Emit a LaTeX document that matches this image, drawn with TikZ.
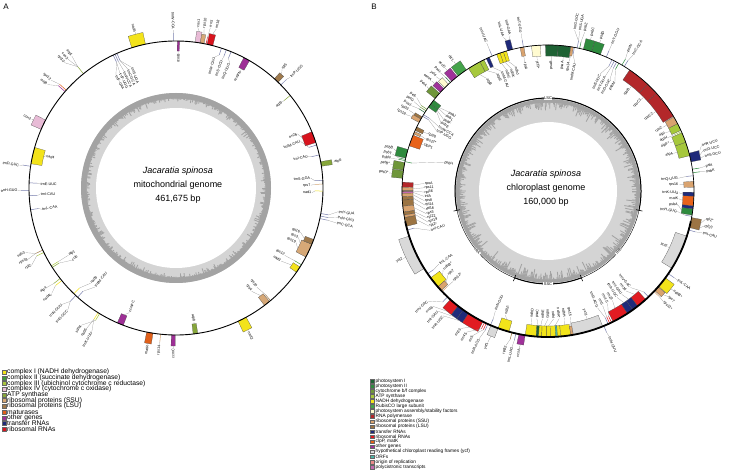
\documentclass[tikz,border=0pt]{standalone}
\usepackage{fontspec}
\setmainfont{Liberation Sans}
% mitochondrial colours
\definecolor{mnad}{HTML}{F3E31B}
\definecolor{msdh}{HTML}{3F9A3C}
\definecolor{mcob}{HTML}{A9C53E}
\definecolor{mcox}{HTML}{E8BBD6}
\definecolor{matp}{HTML}{86A63A}
\definecolor{mssu}{HTML}{D6A877}
\definecolor{mlsu}{HTML}{A07A4C}
\definecolor{mmat}{HTML}{E0601A}
\definecolor{moth}{HTML}{9E2F96}
\definecolor{mtrn}{HTML}{1F2A78}
\definecolor{mrrn}{HTML}{D8141E}
% chloroplast colours
\definecolor{cpsa}{HTML}{1E6234}
\definecolor{cpsb}{HTML}{2E8B3E}
\definecolor{cpet}{HTML}{6F963A}
\definecolor{catp}{HTML}{A6C83C}
\definecolor{cndh}{HTML}{F2E41A}
\definecolor{crbc}{HTML}{44A34A}
\definecolor{cassem}{HTML}{FFFBD0}
\definecolor{crpo}{HTML}{B3272A}
\definecolor{cssu}{HTML}{D9A36F}
\definecolor{clsu}{HTML}{9C7443}
\definecolor{ctrn}{HTML}{1F2A7A}
\definecolor{crrn}{HTML}{E11B22}
\definecolor{cclp}{HTML}{E8621A}
\definecolor{coth}{HTML}{A0319A}
\definecolor{cycf}{HTML}{D9D9D9}
\definecolor{corf}{HTML}{4CB5A6}
\definecolor{cori}{HTML}{E98A8A}
\definecolor{cpoly}{HTML}{C46AB0}
\definecolor{gcdark}{HTML}{A3A3A3}
\definecolor{gclight}{HTML}{D4D4D4}
\tikzset{
  leader/.style={draw=black!45,line width=0.18pt},
  genelab/.style={font=\fontsize{3.7}{4}\selectfont,inner sep=0.4pt},
  qlab/.style={font=\fontsize{4}{4.5}\selectfont,inner sep=0.5pt,fill=white},
  centertxt/.style={font=\fontsize{9}{10}\selectfont},
  legA/.style={font=\fontsize{6.7}{6.8}\selectfont,inner sep=0pt,anchor=west},
  legB/.style={font=\fontsize{4.8}{5}\selectfont,inner sep=0pt,anchor=west},
  panellab/.style={font=\fontsize{8}{9}\selectfont}
}
\newcommand\gbox[5]{\filldraw[fill=#5,draw=black!70,line width=0.2pt] (#1:#3pt) arc[start angle=#1,end angle=#2,radius=#3pt] -- (#2:#4pt) arc[start angle=#2,end angle=#1,radius=#4pt] -- cycle;}
\newcommand\gthin[4]{\draw[#4,line width=0.5pt] (#1:#2pt) -- (#1:#3pt);}
\newcommand\glab[5]{%
  \draw[leader] (#1:#3pt) -- (#2:#4pt);%
  \pgfmathsetmacro\glc{cos(#2+0.01)}%
  \pgfmathsetmacro\glp{(#4-#3)*\glc}%
  \ifdim\glc pt<0pt \pgfmathsetmacro\glr{#2+180}\else\pgfmathsetmacro\glr{#2}\fi
  \ifdim\glp pt>0pt \def\gla{west}\else\def\gla{east}\fi
  \node[genelab,rotate=\glr,anchor=\gla] at (#2:#4pt) {#5};}
\begin{document}
\begin{tikzpicture}[x=1pt,y=1pt]
\useasboundingbox (0,0) rectangle (738,471);
\fill[white] (0,0) rectangle (738,471);
\node[panellab] (pa) at (6,464) {A};
\node[panellab] (pb) at (374,464) {B};

%================ PANEL A =================
\begin{scope}[shift={(176,283)}]
\pgfmathsetseed{11}
\fill[gclight] (0,0) circle[radius=95pt];
\fill[white] (0,0) circle[radius=80pt];
\fill[gcdark,even odd rule] (0,0) circle[radius=95pt] (0,0) circle[radius=89.5pt];
\foreach \a in {0,0.6,...,359.5}{\pgfmathsetmacro\gcr{89.8-6*rnd*rnd}\draw[gcdark,line width=0.85pt] (\a:90pt) -- (\a:\gcr pt);}
\node[centertxt,font=\fontsize{9}{10}\selectfont\itshape] (mt1) at (2,17) {Jacaratia spinosa};
\node[centertxt] (mt2) at (2,3) {mitochondrial genome};
\node[centertxt] (mt3) at (2,-11) {461,675 bp};

% top
\gbox{102}{107.5}{147}{159}{mnad} \glab{104.7}{104.7}{159}{161}{nad5}
\gthin{91}{147}{155}{mtrn!60} \glab{91}{91}{155}{158}{trnW-CCA}
\gbox{88.6}{89.5}{147}{137}{moth} \glab{89}{89}{137}{135}{ccmB}
\gbox{80.5}{82.5}{147}{158}{mcox} \gbox{79}{80.5}{147}{156}{mssu}
\glab{81.5}{82.3}{158}{162}{cox1} \glab{79.7}{80}{156}{162}{rps10}
\gbox{75.5}{77.8}{147}{158}{mrrn} \gthin{78.2}{147}{154}{mrrn}
\glab{76.6}{75.8}{158}{164}{rrn18} \glab{78.2}{77.9}{154}{164}{rrn5}
\gthin{72}{147}{140}{mtrn!60} \glab{72}{73.7}{140}{136}{trnM-CAU}
\gthin{70}{147}{140}{mtrn!60} \glab{70}{70.3}{140}{136}{trnS-GCU}
\gthin{68}{147}{140}{mtrn!60} \glab{68}{66.8}{140}{136}{trnQ-UUG}
\gbox{60}{62.5}{147}{136}{moth} \glab{61.2}{61.2}{136}{134}{ccmFN}
\gbox{46}{48}{147}{155}{mlsu} \glab{47}{48.2}{155}{159}{rpl5}
\gthin{44.5}{147}{155}{mtrn!60} \glab{44.5}{44.1}{155}{159}{trnP-UGG}
\gthin{39}{147}{139}{matp} \glab{39}{39}{139}{137}{atp9}
\gbox{18}{22.5}{147}{136}{mrrn} \glab{21.5}{24}{136}{133}{rrn26}
\gthin{17}{147}{139}{mtrn!60} \glab{17}{20.5}{139}{133}{trnfM-CAU}
\gthin{13}{147}{139}{mtrn!60} \glab{13}{13.5}{139}{136}{trnI-CAU}
\gbox{8.5}{10.3}{147}{158}{matp} \glab{9.4}{9.4}{158}{160}{atp6}
\gthin{3}{147}{139}{mtrn!60} \glab{3}{4.2}{139}{135}{trnS-GGA}
\gthin{1.5}{147}{139}{mssu} \glab{1.5}{1.2}{139}{135}{rps7}
\gthin{-1.2}{147}{139}{mnad} \glab{-1.2}{-2}{139}{136}{nad1}
\gthin{-10}{147}{155}{mtrn!60} \glab{-10}{-8.3}{155}{164}{trnY-GUA}
\gthin{-11}{147}{155}{mtrn!60} \glab{-11}{-10.3}{155}{164}{trnN-GUU}
\gthin{-12}{147}{155}{mtrn!60} \glab{-12}{-12.3}{155}{164}{trnC-GCA}
\gbox{-28}{-22.5}{147}{136}{mssu} \gbox{-22.5}{-20.5}{147}{138}{mlsu}
\glab{-21.5}{-19.5}{138}{132}{rpl16} \glab{-24}{-22}{136}{132}{rps3} \glab{-26.5}{-24.5}{136}{132}{rps19}
\gbox{-35}{-32.5}{147}{139}{mnad} \gthin{-31.5}{147}{139}{msdh}
\glab{-33.7}{-34.8}{139}{128}{nad3} \glab{-31.5}{-31.8}{139}{128}{rps12}
\gbox{-53}{-50.5}{147}{137}{mssu} \gthin{-50}{147}{139}{mlsu}
\glab{-51.8}{-53.8}{137}{128}{rps4} \glab{-50}{-50.8}{139}{128}{rpl10}
\gbox{-65}{-61.5}{147}{159}{mnad} \glab{-63.2}{-63.2}{159}{161}{nad2}
\gbox{-83.3}{-81.5}{147}{137}{matp} \glab{-82.4}{-82.4}{137}{135}{atp8}
\gbox{-91.8}{-90.3}{147}{158}{moth} \glab{-91}{-91}{158}{160}{ccmC}
\gthin{-96}{147}{155}{mssu} \glab{-96}{-96}{155}{158}{rps14}
\gbox{-101.5}{-99}{147}{158}{mmat} \glab{-100.2}{-100.2}{158}{160}{matR}
\gbox{-113.5}{-111}{147}{137}{moth} \glab{-112.2}{-110.5}{137}{133}{ccmFC}
\gthin{-122}{147}{155}{mnad} \gthin{-121.3}{147}{155}{mcob}
\glab{-122}{-120.3}{155}{167}{trnK-UUU} \glab{-122}{-122.5}{155}{167}{nad6} \glab{-121.3}{-124.7}{155}{167}{sdh4}
\gthin{-133}{147}{155}{mtrn!60} \gthin{-132}{147}{139}{mtrn!60} \gthin{-134}{147}{139}{mnad}
\glab{-133}{-131.6}{155}{163}{trnG-GCC} \glab{-133}{-134.4}{155}{163}{trnN-GUU}
\glab{-132}{-129.3}{139}{128}{trnfM-CAU} \glab{-134}{-131.9}{139}{128}{nad9}
\gthin{-141}{147}{155}{mnad} \gthin{-142}{147}{155}{matp}
\glab{-141}{-139.7}{155}{163}{nad4L} \glab{-142}{-142.4}{155}{163}{atp4}
\gthin{-148}{147}{139}{mcob} \gthin{-147.3}{147}{139}{matp}
\glab{-147.3}{-145.3}{139}{127}{cob} \glab{-148}{-148}{139}{127}{atp1}
\gthin{-155}{147}{155}{mlsu} \gthin{-154}{147}{155}{mcob}
\glab{-154}{-151.8}{155}{164}{rpl2} \glab{-155}{-154.3}{155}{164}{rps19} \glab{-155}{-156.8}{155}{164}{sdh3}
% left
\gbox{164}{170.5}{147}{136}{mnad} \glab{167}{166}{136}{134}{nad4}
\gthin{171.5}{147}{155}{mtrn!60} \glab{171.5}{171.8}{155}{158}{trnD-GUC}
\gthin{178}{147}{139}{mtrn!60} \glab{178}{178.3}{139}{136}{trnE-UUC}
\gthin{181}{147}{155}{mtrn!60} \glab{181}{180.9}{155}{158}{trnH-GUG}
\gthin{183}{147}{139}{mtrn!60} \glab{183}{182.8}{139}{136}{trnI-CAU}
\gthin{188.5}{147}{139}{mtrn!60} \glab{188.5}{189}{139}{136}{trnL-CAA}
\gbox{152.5}{156.5}{147}{158}{mcox} \glab{154.5}{154.5}{158}{160}{cox2}
\gthin{139}{147}{156}{moth} \gthin{138.3}{147}{156}{mmat}
\glab{139}{141.2}{156}{165}{mttB} \glab{138.3}{139.2}{156}{165}{rps12}
\gthin{129}{147}{156}{matp}
\glab{129}{128.3}{156}{168}{atp1} \glab{129}{130}{156}{168}{cox3} \glab{129}{131.7}{156}{168}{rpl10}
\gthin{114.5}{147}{139}{mtrn!60} \gthin{113.7}{147}{139}{mtrn!60} \gthin{115.3}{147}{139}{mtrn!60}
\glab{115.3}{118}{139}{128}{trnF-GAA} \glab{115.3}{116}{139}{128}{trnP-UGG}
\glab{114.5}{114}{139}{128}{trnW-CCA} \glab{113.7}{112}{139}{128}{trnC-GCA}
\glab{113.7}{110}{139}{128}{trnS-UGA}
\draw[line width=0.9pt] (0,0) circle[radius=147pt];
\end{scope}

%================ PANEL B =================
\begin{scope}[shift={(548,280)}]
\pgfmathsetseed{5}
\fill[gclight] (0,0) circle[radius=92pt];
\fill[white] (0,0) circle[radius=69pt];
\fill[gcdark,even odd rule] (0,0) circle[radius=92pt] (0,0) circle[radius=88.5pt];
\foreach \a in {0,0.6,...,359.5}{\pgfmathsetmacro\gcr{88.8-12*rnd*rnd}\draw[gcdark,line width=0.85pt] (\a:89pt) -- (\a:\gcr pt);}
\draw[line width=0.4pt] (0,0) circle[radius=93pt];
\draw[line width=1pt] (-12:93pt) arc[start angle=-12,end angle=192,radius=93pt];
\draw[line width=1pt] (249:93pt) arc[start angle=249,end angle=291,radius=93pt];
\foreach \t in {192,249,291,348}{\draw[line width=0.6pt] (\t:90pt) -- (\t:96.5pt);}
\node[qlab] (lsc) at (90:93pt) {LSC};
\node[qlab,rotate=49.5] (irb) at (319.5:93pt) {IRB};
\node[qlab] (ssc) at (270:93pt) {SSC};
\node[qlab,rotate=-49.5] (ira) at (220.5:93pt) {IRA};
\node[centertxt,font=\fontsize{9}{10}\selectfont\itshape] (ct1) at (-2,17) {Jacaratia spinosa};
\node[centertxt] (ct2) at (-2,3) {chloroplast genome};
\node[centertxt] (ct3) at (-2,-11) {160,000 bp};

% top
\gbox{86}{91}{146}{135}{cpsa} \gbox{81}{86}{146}{135}{cpsa}
\glab{88.5}{88.5}{135}{131}{psaB} \glab{83.5}{83.5}{135}{131}{psaA}
\gbox{80}{81}{146}{137}{cssu} \glab{80.5}{80.8}{137}{131}{rps14}
\gthin{79.6}{146}{139}{ctrn!60} \glab{79.6}{78.2}{139}{131}{trnfM-CAU}
\gbox{93}{96.5}{146}{135}{cassem} \glab{94.7}{94.7}{135}{131}{ycf3*}
\gbox{99.5}{101}{146}{137}{cssu} \glab{100.2}{100.2}{137}{131}{rps4}
\gthin{99.7}{146}{153}{ctrn!60} \glab{99.7}{99.7}{153}{160}{trnT-UGU}
\gbox{104}{106}{146}{156}{ctrn} \glab{105.3}{106.2}{156}{160}{trnL-UAA} \glab{104.5}{103.7}{156}{160}{trnF-GAA}
\gbox{106.5}{107.8}{146}{136}{cndh} \gbox{107.8}{109.2}{146}{136}{cndh} \gbox{109.2}{110.6}{146}{136}{cndh}
\glab{107.1}{104.5}{136}{128}{ndhJ} \glab{108.5}{106.7}{136}{128}{ndhK} \glab{110}{108.9}{136}{128}{ndhC}
\gthin{112.5}{146}{153}{ctrn!60} \glab{112.5}{112.5}{153}{160}{trnV-UAC}
\gbox{113.7}{115}{146}{136}{ctrn} \glab{114.3}{111.1}{136}{128}{trnM-CAU}
\gbox{116}{117.8}{146}{135}{catp} \gbox{117.8}{123}{146}{135}{catp}
\glab{116.9}{113.4}{135}{128}{atpE} \glab{120.4}{118.5}{135}{128}{atpB}
\gbox{124}{128}{146}{157}{crbc} \glab{126}{126}{157}{160}{rbcL}
\gbox{128.5}{131.3}{146}{157}{coth} \glab{129.9}{129.9}{157}{160}{accD}
\gthin{132}{146}{153}{cpsa} \glab{132}{132.3}{153}{160}{psaI}
\gbox{133}{135}{146}{155}{cassem} \glab{134}{134.4}{155}{160}{ycf4}
\gbox{135.5}{137.5}{146}{156}{coth} \glab{136.5}{136.6}{156}{160}{cemA}
\gbox{138}{140.7}{146}{157}{cpet} \glab{139.4}{139.2}{157}{160}{petA}
\gbox{141.5}{143.5}{146}{137}{cpsb} \gbox{143.5}{145}{146}{137}{cpsb}
\glab{142.5}{141.5}{137}{127}{psbJ} \glab{143}{143.5}{137}{127}{psbL}
\glab{144}{145.5}{137}{127}{psbF} \glab{144.5}{147.5}{137}{127}{psbE}
\gthin{148.5}{146}{139}{ctrn!60} \gthin{149.2}{146}{139}{ctrn!60}
\glab{148.5}{149.5}{139}{127}{trnW-CCA} \glab{149.2}{151.5}{139}{127}{trnP-UGG}
\gthin{146}{146}{153}{cpet} \gthin{146.7}{146}{153}{cpet} \gthin{147.5}{146}{153}{cpsa}
\glab{146}{144.6}{153}{161}{petL} \glab{146.7}{146.3}{153}{161}{petG} \glab{147.5}{148}{153}{161}{psaJ}
\gbox{149.5}{150.5}{146}{154}{clsu} \gbox{150.5}{152}{146}{155}{cssu}
\glab{150}{149.8}{154}{161}{rpl33} \glab{151.3}{151.7}{155}{161}{rps18}
\gbox{154}{155.5}{146}{138}{clsu} \glab{154.7}{154.5}{138}{133}{rpl20}
\gbox{156}{157}{146}{139}{cssu} \glab{156.5}{157}{139}{133}{rps12*}
\gbox{157.5}{162}{146}{135}{cclp} \glab{159.7}{159.6}{135}{133}{clpP1}
\gbox{163.5}{167}{146}{157}{cpsb} \glab{165.3}{164.7}{157}{160}{psbB}
\gthin{167.5}{146}{153}{cpsb} \gthin{168}{146}{153}{cpsb}
\glab{167.5}{166.6}{153}{160}{psbT} \glab{168}{168.3}{153}{160}{psbN}
\gthin{168.4}{146}{139}{cpsb} \glab{168.4}{164.5}{139}{108}{psbH}
\gbox{168.8}{171.8}{146}{157}{cpet} \gbox{172}{175}{146}{157}{cpet}
\glab{170.3}{170.3}{157}{160}{petB*} \glab{173.5}{173.5}{157}{160}{petD*}
% left LSC cluster
\gbox{176.5}{178.5}{146}{135}{crpo}
\gbox{178.5}{179.8}{146}{135}{cssu}
\gbox{179.8}{180.3}{146}{135}{clsu}
\gbox{180.3}{180.9}{146}{135}{cpoly}
\gbox{180.9}{182.3}{146}{135}{cssu}
\gbox{182.3}{183.6}{146}{135}{clsu}
\gbox{183.6}{186}{146}{135}{clsu}
\gbox{186}{188.3}{146}{135}{cssu}
\gbox{188.3}{189.5}{146}{135}{clsu}
\gbox{189.5}{190.5}{146}{135}{cssu}
\gbox{190.5}{194}{146}{135}{clsu}
\gthin{195.5}{146}{139}{ctrn!60}
\glab{177.5}{176.5}{135}{124}{rpoA}
\glab{179.1}{178.5}{135}{124}{rps11}
\glab{180}{180.5}{135}{124}{rpl36}
\glab{180.6}{182.5}{135}{124}{infA}
\glab{181.6}{184.5}{135}{124}{rps8}
\glab{183}{186.5}{135}{124}{rpl14}
\glab{184.8}{188.5}{135}{124}{rpl16}
\glab{187.1}{190.5}{135}{124}{rps3}
\glab{188.9}{192.5}{135}{124}{rpl22}
\glab{190}{194.5}{135}{124}{rps19}
\glab{192.2}{196.5}{135}{124}{rpl2*}
\glab{195.5}{198.5}{139}{124}{trnI-CAU}
% IRA
\gbox{198}{212}{146}{157}{cycf} \glab{205}{205}{157}{160}{ycf2}
\gthin{214.5}{146}{139}{ctrn!60} \glab{214.5}{213.8}{139}{131}{trnL-CAA}
\gbox{216.5}{221}{146}{135}{cndh} \glab{218.7}{216.8}{135}{131}{ndhB*}
\gbox{221}{223}{146}{137}{cssu} \glab{222}{220.1}{137}{131}{rps7}
\gthin{223.5}{146}{139}{cssu} \glab{223.5}{223.6}{139}{131}{rps12*}
\gthin{226.5}{146}{153}{ctrn!60}
\gbox{228}{232}{146}{157}{crrn} \gbox{232}{234.5}{146}{157}{ctrn} \gbox{234.5}{237}{146}{157}{ctrn}
\gbox{237}{243.5}{146}{157}{crrn}
\gthin{244.2}{146}{153}{crrn} \gthin{245}{146}{153}{crrn} \gthin{245.7}{146}{153}{ctrn!60}
\glab{226.5}{222.5}{153}{163}{trnV-GAC} \glab{230}{225}{157}{163}{rrn16}
\glab{233.2}{227.5}{157}{163}{trnI-GAU} \glab{235.7}{230}{157}{163}{trnA-UGC}
\glab{240.2}{237.5}{157}{163}{rrn23} \glab{244.2}{240}{153}{163}{rrn4.5}
\glab{245}{242.5}{153}{163}{rrn5} \glab{245.7}{245}{153}{163}{trnR-ACG}
% SSC
\gthin{246.8}{146}{139}{ctrn!60} \glab{246.8}{246.3}{139}{131}{trnN-GUU}
\gbox{247}{250}{146}{156}{cycf} \glab{248.5}{248.3}{156}{163}{ycf1}
\gbox{250}{254.5}{146}{135}{cndh} \glab{252.2}{251}{135}{131}{ndhF}
\gthin{255.7}{146}{153}{clsu} \glab{255.7}{254.8}{153}{160}{rpl32}
\gthin{257.3}{146}{153}{ctrn!60} \glab{257.3}{257}{153}{160}{trnL-UAG}
\gbox{258.5}{261}{146}{156}{coth} \glab{259.8}{259.6}{156}{160}{ccsA}
\gbox{261}{265.3}{146}{135}{cndh}
\gbox{265.3}{266.3}{146}{135}{cpsa}
\gbox{266.3}{267.5}{146}{135}{cndh}
\gbox{267.5}{269.5}{146}{135}{cndh}
\gbox{269.5}{271}{146}{135}{cndh}
\gbox{271}{275}{146}{135}{cndh}
\gbox{273}{273.7}{146}{135}{corf}
\gbox{275}{279}{146}{135}{cndh}
\gbox{279}{280}{146}{137}{cssu}
\gbox{280}{292}{146}{134}{cycf}
\glab{263.1}{262.5}{135}{128}{ndhD} \glab{265.8}{265}{135}{128}{psaC}
\glab{266.9}{267.5}{135}{128}{ndhE} \glab{268.5}{270}{135}{128}{ndhG}
\glab{270.2}{272.5}{135}{128}{ndhI} \glab{273}{275}{135}{128}{ndhA*}
\glab{277}{277.5}{135}{128}{ndhH} \glab{279.5}{280}{137}{128}{rps15}
\glab{287}{287}{134}{131}{ycf1}
% IRB
\gthin{292.5}{146}{153}{ctrn!60} \glab{292.5}{292.8}{153}{158}{trnN-GUU}
\gthin{294.3}{146}{139}{ctrn!60} \gthin{295}{146}{139}{crrn} \gthin{295.8}{146}{139}{crrn}
\gbox{296.5}{303}{146}{135}{crrn} \gbox{303}{305.5}{146}{135}{ctrn} \gbox{305.5}{308}{146}{135}{ctrn}
\gbox{308}{312}{146}{135}{crrn}
\gthin{313.5}{146}{139}{ctrn!60}
\glab{294.3}{293}{139}{127}{trnR-ACG} \glab{295}{295.5}{139}{127}{rrn5}
\glab{295.8}{298}{139}{127}{rrn4.5} \glab{299.7}{300.5}{135}{127}{rrn23}
\glab{304.2}{303}{135}{127}{trnA-UGC} \glab{306.7}{305.5}{135}{127}{trnI-GAU}
\glab{310}{308}{135}{127}{rrn16} \glab{313.5}{310.5}{139}{127}{trnV-GAC}
\gthin{316.5}{146}{153}{cssu} \glab{316.5}{316.2}{153}{160}{rps12*}
\gbox{317}{319}{146}{155}{cssu} \glab{318}{318.7}{155}{160}{rps7}
\gbox{319.2}{323.5}{146}{157}{cndh} \glab{321.4}{321.6}{157}{160}{ndhB*}
\gthin{325.5}{146}{153}{ctrn!60} \glab{325.5}{325.5}{153}{157}{trnL-CAA}
\gbox{328}{342}{146}{134}{cycf} \glab{335}{335}{134}{132}{ycf2}
\gthin{344.5}{146}{153}{ctrn!60}
\gbox{345.5}{349.5}{146}{156}{clsu}
\glab{348}{349.8}{156}{160}{rpl2*} \glab{346.3}{347.3}{156}{160}{rpl23} \glab{344.5}{344.8}{153}{160}{trnI-CAU}
% right LSC
\gthin{350}{146}{139}{ctrn!60}
\gbox{350.5}{353}{146}{135}{cpsb}
\gbox{353}{354.2}{146}{135}{ctrn}
\gbox{354.2}{358}{146}{135}{cclp}
\gbox{358}{359.5}{146}{135}{ctrn}
\glab{358.7}{359.2}{135}{131}{trnK-UUU} \glab{356}{356.6}{135}{131}{matK}
\glab{351.7}{353.8}{135}{131}{psbA} \glab{350}{351}{139}{131}{trnH-GUG}
\gbox{1.5}{3.8}{146}{136}{cssu} \glab{2.6}{2.8}{136}{131}{rps16}
\gthin{6}{146}{139}{ctrn!60} \glab{6}{5.6}{139}{131}{trnQ-UUG}
\gthin{7.2}{146}{153}{cpsb} \gthin{8.6}{146}{153}{cpsb}
\glab{7.2}{7}{153}{159}{psbK} \glab{8.6}{8.9}{153}{159}{psbI}
\gbox{11.5}{15}{146}{156}{ctrn}
\glab{12.3}{12.5}{156}{160}{trnS-GCU} \glab{13.3}{14.5}{156}{160}{trnG-UCC} \glab{14.3}{16.5}{156}{160}{trnR-UCU}
\gbox{14}{19.5}{146}{135}{catp} \gbox{19.5}{23.5}{146}{135}{catp}
\gthin{24}{146}{139}{catp}
\gbox{24.5}{27.5}{146}{136}{catp} \gbox{27.5}{30.5}{146}{136}{cssu}
\glab{16.7}{16.7}{135}{131}{atpA} \glab{21.5}{21.5}{135}{131}{atpF*}
\glab{24}{24}{139}{131}{atpH} \glab{26}{26.4}{136}{131}{atpI} \glab{29}{29}{136}{131}{rps2}
\gbox{30.8}{42}{146}{134}{crpo} \gbox{42}{47}{146}{134}{crpo} \gbox{47}{56}{146}{134}{crpo}
\glab{36.4}{36.4}{134}{131}{rpoC2} \glab{44.5}{44.5}{134}{131}{rpoC1} \glab{51.5}{51.5}{134}{131}{rpoB}
\gthin{58.5}{146}{153}{ctrn!60} \gthin{59.6}{146}{153}{cpsb}
\glab{58.5}{58}{153}{160}{trnC-GCA} \glab{59.6}{60.2}{153}{160}{petN}
\gthin{61}{146}{139}{cpsb} \gthin{62}{146}{139}{ctrn!60} \gthin{63}{146}{139}{ctrn!60} \gthin{64}{146}{139}{ctrn!60}
\glab{61}{58.5}{139}{128}{psbM} \glab{62}{61}{139}{128}{trnD-GUC}
\glab{63}{63.5}{139}{128}{trnY-GUA} \glab{64}{66}{139}{128}{trnE-UUC}
\gthin{66.5}{146}{153}{ctrn!60} \glab{66.5}{66.5}{153}{160}{trnT-GGU}
\gbox{69}{72.7}{146}{157}{cpsb} \gbox{72.7}{76}{146}{157}{cpsb}
\glab{70.8}{70.8}{157}{160}{psbD} \glab{74.3}{74.3}{157}{160}{psbC}
\gthin{77.5}{146}{153}{cpsb} \gthin{78.5}{146}{153}{ctrn!60}
\glab{77.5}{77}{153}{163}{psbZ} \glab{78.5}{78.8}{153}{163}{trnS-UGA} \glab{78.5}{80.6}{153}{163}{trnG-GCC}
% outer circle
\draw[line width=0.7pt] (0,0) circle[radius=146pt];
\draw[line width=1.8pt] (192:146pt) arc[start angle=192,end angle=348,radius=146pt];
\end{scope}

%================ LEGENDS =================
\foreach \c/\t [count=\i from 0] in {
 mnad/{complex I (NADH dehydrogenase)},
 msdh/{complex II (succinate dehydrogenase)},
 mcob/{complex III (ubichinol cytochrome c reductase)},
 mcox/{complex IV (cytochrome c oxidase)},
 matp/{ATP synthase},
 mssu/{ribosomal proteins (SSU)},
 mlsu/{ribosomal proteins (LSU)},
 mmat/{maturases},
 moth/{other genes},
 mtrn/{transfer RNAs},
 mrrn/{ribosomal RNAs}}{
 \filldraw[fill=\c,draw=black!60,line width=0.2pt] (2,{99-\i*5.7-2}) rectangle ++(4,4);
 \node[legA] (la\i) at (7,{99-\i*5.7}) {\t};
}
\foreach \c/\t [count=\i from 0] in {
 cpsa/{photosystem I},
 cpsb/{photosystem II},
 cpet/{cytochrome b/f complex},
 catp/{ATP synthase},
 cndh/{NADH dehydrogenase},
 crbc/{RubisCO large subunit},
 cassem/{photosystem assembly/stability factors},
 crpo/{RNA polymerase},
 cssu/{ribosomal proteins (SSU)},
 clsu/{ribosomal proteins (LSU)},
 ctrn/{transfer RNAs},
 crrn/{ribosomal RNAs},
 cclp/{clpP, matK},
 coth/{other genes},
 cycf/{hypothetical chloroplast reading frames (ycf)},
 corf/{ORFs},
 cori/{origin of replication},
 cpoly/{polycistronic transcripts}}{
 \filldraw[fill=\c,draw=black!60,line width=0.2pt] (370,{90-\i*5.05-1.8}) rectangle ++(3.6,3.6);
 \node[legB] (lb\i) at (375.5,{90-\i*5.05}) {\t};
}
\end{tikzpicture}
\end{document}
